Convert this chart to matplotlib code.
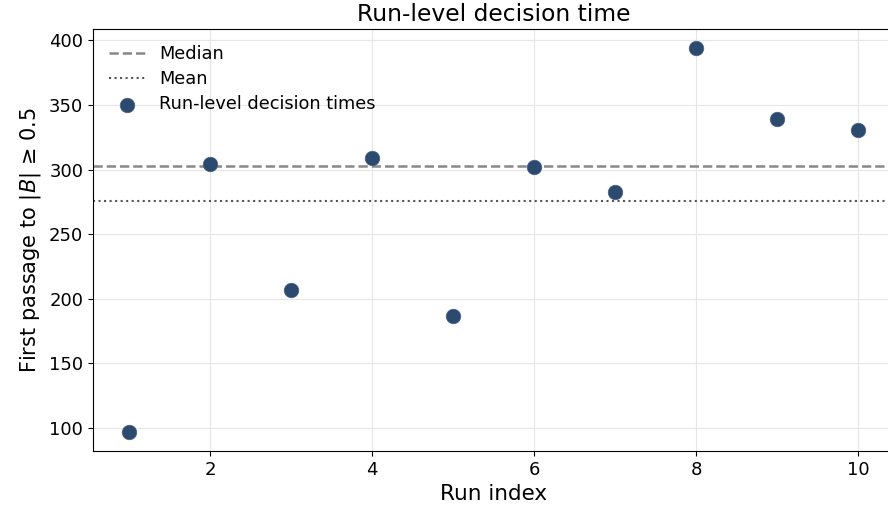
import numpy as np
from matplotlib import pyplot as plt

run_index = [1, 2, 3, 4, 5, 6, 7, 8, 9, 10]
decision_times = [97, 304, 207, 309, 187, 302, 283, 394, 339, 331]

if __name__ == "__main__":
    times = np.array(decision_times, dtype=float)
    median_t = np.median(times)
    mean_t = np.mean(times)

    fig = plt.figure(figsize=(8.88, 5.14), dpi=100)
    # axes run slightly past the right edge, like the reference crop
    ax = fig.add_axes([0.1047, 0.1226, 0.9026, 0.821])

    ax.axhline(median_t, color="#888888", linestyle="--", linewidth=1.8, label="Median", zorder=2)
    ax.axhline(mean_t, color="#555555", linestyle=":", linewidth=1.5, label="Mean", zorder=2)
    ax.scatter(run_index, times, s=110, color="#2c4a6e", edgecolor="#46608a",
               linewidth=0.5, label="Run-level decision times", zorder=3)

    ax.grid(True, color="#e6e6e6", linewidth=0.8)
    ax.set_axisbelow(True)
    ax.spines["right"].set_visible(False)
    ax.set_xticks([2, 4, 6, 8, 10])
    ax.tick_params(labelsize=13)
    ax.set_xlabel("Run index", fontsize=15.5)
    ax.set_ylabel("First passage to $|B|$ ≥ 0.5", fontsize=15)
    ax.set_title("Run-level decision time", fontsize=16.8)
    ax.legend(loc="upper left", frameon=False, fontsize=12.8, labelspacing=0.4)

    fig.savefig("out.png", dpi=100)
